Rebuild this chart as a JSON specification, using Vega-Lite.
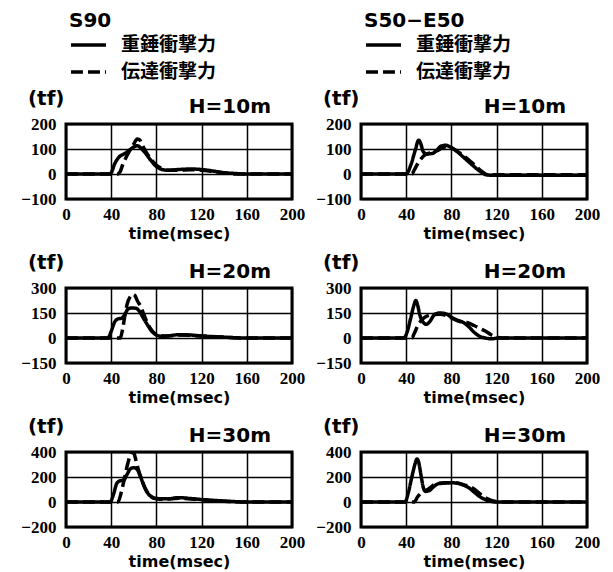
{
"$schema":"https://vega.github.io/schema/vega-lite/v6.json",
"background":"white",
"padding":{"left":19,"top":9,"right":5,"bottom":5},
"columns":2,
"bounds":"flush",
"spacing":{"row":89,"column":69},
"data":{"values":[
{"p":"A","s":"重錘衝撃力","t":0,"v":0},{"p":"A","s":"重錘衝撃力","t":38,"v":0},{"p":"A","s":"重錘衝撃力","t":40,"v":5},{"p":"A","s":"重錘衝撃力","t":43,"v":40},{"p":"A","s":"重錘衝撃力","t":47,"v":68},{"p":"A","s":"重錘衝撃力","t":52,"v":82},{"p":"A","s":"重錘衝撃力","t":56,"v":95},{"p":"A","s":"重錘衝撃力","t":60,"v":108},{"p":"A","s":"重錘衝撃力","t":63,"v":113},{"p":"A","s":"重錘衝撃力","t":66,"v":105},{"p":"A","s":"重錘衝撃力","t":70,"v":85},{"p":"A","s":"重錘衝撃力","t":75,"v":55},{"p":"A","s":"重錘衝撃力","t":80,"v":30},{"p":"A","s":"重錘衝撃力","t":85,"v":18},{"p":"A","s":"重錘衝撃力","t":90,"v":15},{"p":"A","s":"重錘衝撃力","t":100,"v":18},{"p":"A","s":"重錘衝撃力","t":110,"v":20},{"p":"A","s":"重錘衝撃力","t":120,"v":18},{"p":"A","s":"重錘衝撃力","t":130,"v":12},{"p":"A","s":"重錘衝撃力","t":140,"v":5},{"p":"A","s":"重錘衝撃力","t":150,"v":2},{"p":"A","s":"重錘衝撃力","t":160,"v":0},{"p":"A","s":"重錘衝撃力","t":200,"v":0},
{"p":"A","s":"伝達衝撃力","t":0,"v":0},{"p":"A","s":"伝達衝撃力","t":46,"v":0},{"p":"A","s":"伝達衝撃力","t":48,"v":10},{"p":"A","s":"伝達衝撃力","t":50,"v":35},{"p":"A","s":"伝達衝撃力","t":53,"v":65},{"p":"A","s":"伝達衝撃力","t":56,"v":90},{"p":"A","s":"伝達衝撃力","t":60,"v":120},{"p":"A","s":"伝達衝撃力","t":63,"v":140},{"p":"A","s":"伝達衝撃力","t":65,"v":138},{"p":"A","s":"伝達衝撃力","t":67,"v":120},{"p":"A","s":"伝達衝撃力","t":70,"v":95},{"p":"A","s":"伝達衝撃力","t":75,"v":60},{"p":"A","s":"伝達衝撃力","t":80,"v":35},{"p":"A","s":"伝達衝撃力","t":85,"v":22},{"p":"A","s":"伝達衝撃力","t":90,"v":15},{"p":"A","s":"伝達衝撃力","t":100,"v":15},{"p":"A","s":"伝達衝撃力","t":110,"v":17},{"p":"A","s":"伝達衝撃力","t":120,"v":15},{"p":"A","s":"伝達衝撃力","t":130,"v":10},{"p":"A","s":"伝達衝撃力","t":140,"v":5},{"p":"A","s":"伝達衝撃力","t":150,"v":0},{"p":"A","s":"伝達衝撃力","t":200,"v":0},
{"p":"B","s":"重錘衝撃力","t":0,"v":0},{"p":"B","s":"重錘衝撃力","t":40,"v":0},{"p":"B","s":"重錘衝撃力","t":44,"v":35},{"p":"B","s":"重錘衝撃力","t":48,"v":95},{"p":"B","s":"重錘衝撃力","t":51,"v":135},{"p":"B","s":"重錘衝撃力","t":53,"v":120},{"p":"B","s":"重錘衝撃力","t":55,"v":90},{"p":"B","s":"重錘衝撃力","t":58,"v":80},{"p":"B","s":"重錘衝撃力","t":63,"v":82},{"p":"B","s":"重錘衝撃力","t":67,"v":95},{"p":"B","s":"重錘衝撃力","t":71,"v":112},{"p":"B","s":"重錘衝撃力","t":75,"v":115},{"p":"B","s":"重錘衝撃力","t":80,"v":105},{"p":"B","s":"重錘衝撃力","t":85,"v":90},{"p":"B","s":"重錘衝撃力","t":90,"v":70},{"p":"B","s":"重錘衝撃力","t":95,"v":50},{"p":"B","s":"重錘衝撃力","t":100,"v":30},{"p":"B","s":"重錘衝撃力","t":105,"v":12},{"p":"B","s":"重錘衝撃力","t":110,"v":-2},{"p":"B","s":"重錘衝撃力","t":115,"v":-5},{"p":"B","s":"重錘衝撃力","t":200,"v":-5},
{"p":"B","s":"伝達衝撃力","t":0,"v":0},{"p":"B","s":"伝達衝撃力","t":45,"v":0},{"p":"B","s":"伝達衝撃力","t":47,"v":15},{"p":"B","s":"伝達衝撃力","t":50,"v":40},{"p":"B","s":"伝達衝撃力","t":53,"v":60},{"p":"B","s":"伝達衝撃力","t":57,"v":78},{"p":"B","s":"伝達衝撃力","t":62,"v":85},{"p":"B","s":"伝達衝撃力","t":67,"v":92},{"p":"B","s":"伝達衝撃力","t":72,"v":105},{"p":"B","s":"伝達衝撃力","t":77,"v":110},{"p":"B","s":"伝達衝撃力","t":82,"v":100},{"p":"B","s":"伝達衝撃力","t":87,"v":85},{"p":"B","s":"伝達衝撃力","t":92,"v":68},{"p":"B","s":"伝達衝撃力","t":97,"v":50},{"p":"B","s":"伝達衝撃力","t":102,"v":30},{"p":"B","s":"伝達衝撃力","t":107,"v":10},{"p":"B","s":"伝達衝撃力","t":112,"v":-3},{"p":"B","s":"伝達衝撃力","t":200,"v":-3},
{"p":"C","s":"重錘衝撃力","t":0,"v":0},{"p":"C","s":"重錘衝撃力","t":37,"v":0},{"p":"C","s":"重錘衝撃力","t":40,"v":40},{"p":"C","s":"重錘衝撃力","t":43,"v":95},{"p":"C","s":"重錘衝撃力","t":46,"v":115},{"p":"C","s":"重錘衝撃力","t":49,"v":118},{"p":"C","s":"重錘衝撃力","t":52,"v":140},{"p":"C","s":"重錘衝撃力","t":55,"v":175},{"p":"C","s":"重錘衝撃力","t":58,"v":180},{"p":"C","s":"重錘衝撃力","t":62,"v":178},{"p":"C","s":"重錘衝撃力","t":65,"v":160},{"p":"C","s":"重錘衝撃力","t":68,"v":125},{"p":"C","s":"重錘衝撃力","t":72,"v":80},{"p":"C","s":"重錘衝撃力","t":76,"v":40},{"p":"C","s":"重錘衝撃力","t":80,"v":18},{"p":"C","s":"重錘衝撃力","t":85,"v":10},{"p":"C","s":"重錘衝撃力","t":90,"v":12},{"p":"C","s":"重錘衝撃力","t":100,"v":20},{"p":"C","s":"重錘衝撃力","t":110,"v":18},{"p":"C","s":"重錘衝撃力","t":120,"v":12},{"p":"C","s":"重錘衝撃力","t":140,"v":5},{"p":"C","s":"重錘衝撃力","t":160,"v":0},{"p":"C","s":"重錘衝撃力","t":200,"v":0},
{"p":"C","s":"伝達衝撃力","t":0,"v":0},{"p":"C","s":"伝達衝撃力","t":48,"v":0},{"p":"C","s":"伝達衝撃力","t":50,"v":50},{"p":"C","s":"伝達衝撃力","t":52,"v":130},{"p":"C","s":"伝達衝撃力","t":54,"v":200},{"p":"C","s":"伝達衝撃力","t":57,"v":250},{"p":"C","s":"伝達衝撃力","t":59,"v":262},{"p":"C","s":"伝達衝撃力","t":61,"v":255},{"p":"C","s":"伝達衝撃力","t":63,"v":225},{"p":"C","s":"伝達衝撃力","t":66,"v":190},{"p":"C","s":"伝達衝撃力","t":69,"v":140},{"p":"C","s":"伝達衝撃力","t":72,"v":90},{"p":"C","s":"伝達衝撃力","t":76,"v":45},{"p":"C","s":"伝達衝撃力","t":80,"v":20},{"p":"C","s":"伝達衝撃力","t":85,"v":12},{"p":"C","s":"伝達衝撃力","t":90,"v":12},{"p":"C","s":"伝達衝撃力","t":100,"v":18},{"p":"C","s":"伝達衝撃力","t":120,"v":12},{"p":"C","s":"伝達衝撃力","t":140,"v":5},{"p":"C","s":"伝達衝撃力","t":160,"v":0},{"p":"C","s":"伝達衝撃力","t":200,"v":0},
{"p":"D","s":"重錘衝撃力","t":0,"v":0},{"p":"D","s":"重錘衝撃力","t":38,"v":0},{"p":"D","s":"重錘衝撃力","t":41,"v":40},{"p":"D","s":"重錘衝撃力","t":44,"v":120},{"p":"D","s":"重錘衝撃力","t":47,"v":200},{"p":"D","s":"重錘衝撃力","t":48.5,"v":225},{"p":"D","s":"重錘衝撃力","t":50,"v":200},{"p":"D","s":"重錘衝撃力","t":52,"v":140},{"p":"D","s":"重錘衝撃力","t":55,"v":95},{"p":"D","s":"重錘衝撃力","t":58,"v":82},{"p":"D","s":"重錘衝撃力","t":61,"v":100},{"p":"D","s":"重錘衝撃力","t":65,"v":140},{"p":"D","s":"重錘衝撃力","t":70,"v":150},{"p":"D","s":"重錘衝撃力","t":75,"v":145},{"p":"D","s":"重錘衝撃力","t":80,"v":125},{"p":"D","s":"重錘衝撃力","t":85,"v":108},{"p":"D","s":"重錘衝撃力","t":90,"v":95},{"p":"D","s":"重錘衝撃力","t":95,"v":70},{"p":"D","s":"重錘衝撃力","t":100,"v":35},{"p":"D","s":"重錘衝撃力","t":105,"v":10},{"p":"D","s":"重錘衝撃力","t":110,"v":0},{"p":"D","s":"重錘衝撃力","t":115,"v":-5},{"p":"D","s":"重錘衝撃力","t":122,"v":0},{"p":"D","s":"重錘衝撃力","t":200,"v":0},
{"p":"D","s":"伝達衝撃力","t":0,"v":0},{"p":"D","s":"伝達衝撃力","t":45,"v":0},{"p":"D","s":"伝達衝撃力","t":47,"v":25},{"p":"D","s":"伝達衝撃力","t":50,"v":70},{"p":"D","s":"伝達衝撃力","t":54,"v":110},{"p":"D","s":"伝達衝撃力","t":58,"v":130},{"p":"D","s":"伝達衝撃力","t":63,"v":140},{"p":"D","s":"伝達衝撃力","t":70,"v":142},{"p":"D","s":"伝達衝撃力","t":75,"v":135},{"p":"D","s":"伝達衝撃力","t":80,"v":120},{"p":"D","s":"伝達衝撃力","t":85,"v":105},{"p":"D","s":"伝達衝撃力","t":90,"v":95},{"p":"D","s":"伝達衝撃力","t":95,"v":90},{"p":"D","s":"伝達衝撃力","t":100,"v":75},{"p":"D","s":"伝達衝撃力","t":105,"v":58},{"p":"D","s":"伝達衝撃力","t":110,"v":42},{"p":"D","s":"伝達衝撃力","t":115,"v":20},{"p":"D","s":"伝達衝撃力","t":120,"v":5},{"p":"D","s":"伝達衝撃力","t":125,"v":0},{"p":"D","s":"伝達衝撃力","t":200,"v":0},
{"p":"E","s":"重錘衝撃力","t":0,"v":0},{"p":"E","s":"重錘衝撃力","t":39,"v":0},{"p":"E","s":"重錘衝撃力","t":42,"v":60},{"p":"E","s":"重錘衝撃力","t":45,"v":150},{"p":"E","s":"重錘衝撃力","t":48,"v":170},{"p":"E","s":"重錘衝撃力","t":51,"v":175},{"p":"E","s":"重錘衝撃力","t":54,"v":220},{"p":"E","s":"重錘衝撃力","t":57,"v":265},{"p":"E","s":"重錘衝撃力","t":60,"v":275},{"p":"E","s":"重錘衝撃力","t":63,"v":260},{"p":"E","s":"重錘衝撃力","t":66,"v":200},{"p":"E","s":"重錘衝撃力","t":69,"v":130},{"p":"E","s":"重錘衝撃力","t":72,"v":75},{"p":"E","s":"重錘衝撃力","t":76,"v":40},{"p":"E","s":"重錘衝撃力","t":80,"v":28},{"p":"E","s":"重錘衝撃力","t":90,"v":25},{"p":"E","s":"重錘衝撃力","t":100,"v":35},{"p":"E","s":"重錘衝撃力","t":110,"v":28},{"p":"E","s":"重錘衝撃力","t":120,"v":20},{"p":"E","s":"重錘衝撃力","t":140,"v":8},{"p":"E","s":"重錘衝撃力","t":160,"v":0},{"p":"E","s":"重錘衝撃力","t":200,"v":0},
{"p":"E","s":"伝達衝撃力","t":0,"v":0},{"p":"E","s":"伝達衝撃力","t":46,"v":0},{"p":"E","s":"伝達衝撃力","t":49,"v":80},{"p":"E","s":"伝達衝撃力","t":52,"v":200},{"p":"E","s":"伝達衝撃力","t":55,"v":320},{"p":"E","s":"伝達衝撃力","t":58,"v":395},{"p":"E","s":"伝達衝撃力","t":60,"v":390},{"p":"E","s":"伝達衝撃力","t":62,"v":330},{"p":"E","s":"伝達衝撃力","t":64,"v":260},{"p":"E","s":"伝達衝撃力","t":67,"v":180},{"p":"E","s":"伝達衝撃力","t":70,"v":110},{"p":"E","s":"伝達衝撃力","t":74,"v":55},{"p":"E","s":"伝達衝撃力","t":78,"v":30},{"p":"E","s":"伝達衝撃力","t":85,"v":22},{"p":"E","s":"伝達衝撃力","t":100,"v":30},{"p":"E","s":"伝達衝撃力","t":120,"v":18},{"p":"E","s":"伝達衝撃力","t":140,"v":5},{"p":"E","s":"伝達衝撃力","t":160,"v":0},{"p":"E","s":"伝達衝撃力","t":200,"v":0},
{"p":"F","s":"重錘衝撃力","t":0,"v":0},{"p":"F","s":"重錘衝撃力","t":39,"v":0},{"p":"F","s":"重錘衝撃力","t":42,"v":80},{"p":"F","s":"重錘衝撃力","t":45,"v":200},{"p":"F","s":"重錘衝撃力","t":48,"v":310},{"p":"F","s":"重錘衝撃力","t":49.5,"v":345},{"p":"F","s":"重錘衝撃力","t":51,"v":320},{"p":"F","s":"重錘衝撃力","t":53,"v":220},{"p":"F","s":"重錘衝撃力","t":55,"v":120},{"p":"F","s":"重錘衝撃力","t":57,"v":85},{"p":"F","s":"重錘衝撃力","t":60,"v":90},{"p":"F","s":"重錘衝撃力","t":64,"v":120},{"p":"F","s":"重錘衝撃力","t":68,"v":145},{"p":"F","s":"重錘衝撃力","t":72,"v":150},{"p":"F","s":"重錘衝撃力","t":78,"v":155},{"p":"F","s":"重錘衝撃力","t":84,"v":152},{"p":"F","s":"重錘衝撃力","t":88,"v":145},{"p":"F","s":"重錘衝撃力","t":92,"v":130},{"p":"F","s":"重錘衝撃力","t":96,"v":110},{"p":"F","s":"重錘衝撃力","t":100,"v":80},{"p":"F","s":"重錘衝撃力","t":104,"v":50},{"p":"F","s":"重錘衝撃力","t":108,"v":28},{"p":"F","s":"重錘衝撃力","t":112,"v":12},{"p":"F","s":"重錘衝撃力","t":116,"v":3},{"p":"F","s":"重錘衝撃力","t":120,"v":0},{"p":"F","s":"重錘衝撃力","t":200,"v":0},
{"p":"F","s":"伝達衝撃力","t":0,"v":0},{"p":"F","s":"伝達衝撃力","t":47,"v":0},{"p":"F","s":"伝達衝撃力","t":50,"v":40},{"p":"F","s":"伝達衝撃力","t":54,"v":80},{"p":"F","s":"伝達衝撃力","t":58,"v":95},{"p":"F","s":"伝達衝撃力","t":62,"v":120},{"p":"F","s":"伝達衝撃力","t":66,"v":145},{"p":"F","s":"伝達衝撃力","t":72,"v":152},{"p":"F","s":"伝達衝撃力","t":80,"v":155},{"p":"F","s":"伝達衝撃力","t":86,"v":150},{"p":"F","s":"伝達衝撃力","t":92,"v":135},{"p":"F","s":"伝達衝撃力","t":96,"v":125},{"p":"F","s":"伝達衝撃力","t":100,"v":105},{"p":"F","s":"伝達衝撃力","t":104,"v":75},{"p":"F","s":"伝達衝撃力","t":108,"v":45},{"p":"F","s":"伝達衝撃力","t":112,"v":25},{"p":"F","s":"伝達衝撃力","t":116,"v":10},{"p":"F","s":"伝達衝撃力","t":120,"v":2},{"p":"F","s":"伝達衝撃力","t":125,"v":0},{"p":"F","s":"伝達衝撃力","t":200,"v":0}
]},
"concat":[
{"width":226,"height":75,"title":{"text":"H=10m","offset":-106},"transform":[{"filter":"datum.p=='A'"}],
 "mark":{"type":"line","interpolate":"monotone","strokeWidth":3.5,"color":"black"},
 "encoding":{
  "x":{"field":"t","type":"quantitative","scale":{"domain":[0,200]},"axis":{"values":[0,40,80,120,160,200],"title":"time(msec)"}},
  "y":{"field":"v","type":"quantitative","scale":{"domain":[-100,200]},"axis":{"values":[-100,0,100,200],"title":"(tf)"}},
  "strokeDash":{"field":"s","type":"nominal","scale":{"domain":["重錘衝撃力","伝達衝撃力"],"range":[[1,0],[12,5]]},"legend":{"title":"S90","orient":"none","legendX":3,"legendY":-113}}}},
{"width":226,"height":75,"title":{"text":"H=10m","offset":-106},"transform":[{"filter":"datum.p=='B'"}],
 "mark":{"type":"line","interpolate":"monotone","strokeWidth":3.5,"color":"black"},
 "encoding":{
  "x":{"field":"t","type":"quantitative","scale":{"domain":[0,200]},"axis":{"values":[0,40,80,120,160,200],"title":"time(msec)"}},
  "y":{"field":"v","type":"quantitative","scale":{"domain":[-100,200]},"axis":{"values":[-100,0,100,200],"title":"(tf)"}},
  "strokeDash":{"field":"s","type":"nominal","scale":{"domain":["重錘衝撃力","伝達衝撃力"],"range":[[1,0],[12,5]]},"legend":{"title":"S50−E50","orient":"none","legendX":3,"legendY":-113}}}},
{"width":226,"height":75,"title":{"text":"H=20m","offset":-30},"transform":[{"filter":"datum.p=='C'"}],
 "mark":{"type":"line","interpolate":"monotone","strokeWidth":3.5,"color":"black"},
 "encoding":{
  "x":{"field":"t","type":"quantitative","scale":{"domain":[0,200]},"axis":{"values":[0,40,80,120,160,200],"title":"time(msec)"}},
  "y":{"field":"v","type":"quantitative","scale":{"domain":[-150,300]},"axis":{"values":[-150,0,150,300],"title":"(tf)"}},
  "strokeDash":{"field":"s","type":"nominal","scale":{"domain":["重錘衝撃力","伝達衝撃力"],"range":[[1,0],[12,5]]},"legend":null}}},
{"width":226,"height":75,"title":{"text":"H=20m","offset":-30},"transform":[{"filter":"datum.p=='D'"}],
 "mark":{"type":"line","interpolate":"monotone","strokeWidth":3.5,"color":"black"},
 "encoding":{
  "x":{"field":"t","type":"quantitative","scale":{"domain":[0,200]},"axis":{"values":[0,40,80,120,160,200],"title":"time(msec)"}},
  "y":{"field":"v","type":"quantitative","scale":{"domain":[-150,300]},"axis":{"values":[-150,0,150,300],"title":"(tf)"}},
  "strokeDash":{"field":"s","type":"nominal","scale":{"domain":["重錘衝撃力","伝達衝撃力"],"range":[[1,0],[12,5]]},"legend":null}}},
{"width":226,"height":75,"title":{"text":"H=30m","offset":-30},"transform":[{"filter":"datum.p=='E'"}],
 "mark":{"type":"line","interpolate":"monotone","strokeWidth":3.5,"color":"black"},
 "encoding":{
  "x":{"field":"t","type":"quantitative","scale":{"domain":[0,200]},"axis":{"values":[0,40,80,120,160,200],"title":"time(msec)"}},
  "y":{"field":"v","type":"quantitative","scale":{"domain":[-200,400]},"axis":{"values":[-200,0,200,400],"title":"(tf)"}},
  "strokeDash":{"field":"s","type":"nominal","scale":{"domain":["重錘衝撃力","伝達衝撃力"],"range":[[1,0],[12,5]]},"legend":null}}},
{"width":226,"height":75,"title":{"text":"H=30m","offset":-30},"transform":[{"filter":"datum.p=='F'"}],
 "mark":{"type":"line","interpolate":"monotone","strokeWidth":3.5,"color":"black"},
 "encoding":{
  "x":{"field":"t","type":"quantitative","scale":{"domain":[0,200]},"axis":{"values":[0,40,80,120,160,200],"title":"time(msec)"}},
  "y":{"field":"v","type":"quantitative","scale":{"domain":[-200,400]},"axis":{"values":[-200,0,200,400],"title":"(tf)"}},
  "strokeDash":{"field":"s","type":"nominal","scale":{"domain":["重錘衝撃力","伝達衝撃力"],"range":[[1,0],[12,5]]},"legend":null}}}
],
"resolve":{"scale":{"y":"independent","x":"independent","strokeDash":"independent"},"legend":{"strokeDash":"independent"},"axis":{"x":"independent","y":"independent"}},
"config":{
 "view":{"stroke":"black","strokeWidth":3},
 "axis":{"grid":true,"gridColor":"black","gridWidth":1.5,"gridOpacity":1,"domain":false,"ticks":false,"tickSize":0,
   "labelFont":"Liberation Serif","labelFontWeight":"bold","labelFontSize":17,"labelColor":"black",
   "titleColor":"black","titleFont":"DejaVu Sans","titleFontWeight":"bold"},
 "axisX":{"labelPadding":7,"titleFontSize":16,"titlePadding":3,"labelFlush":false},
 "axisY":{"labelPadding":10,"titleFontSize":20,"titleAngle":0,"titleAlign":"right","titleBaseline":"alphabetic","titleX":-2,"titleY":-20},
 "title":{"anchor":"end","frame":"group","dx":-21,"baseline":"alphabetic","font":"DejaVu Sans","fontSize":20,"fontWeight":"bold","color":"black"},
 "legend":{"symbolType":"M-1,0H2.5","symbolSize":400,"symbolStrokeWidth":3.5,"symbolStrokeColor":"black","symbolFillColor":"transparent",
   "labelFont":"Noto Sans CJK JP","labelFontWeight":"bold","labelFontSize":19,"labelColor":"black","labelOffset":28,
   "titleFont":"DejaVu Sans","titleFontSize":20,"titleFontWeight":"bold","titleColor":"black","titlePadding":2,"rowPadding":5}
}
}
